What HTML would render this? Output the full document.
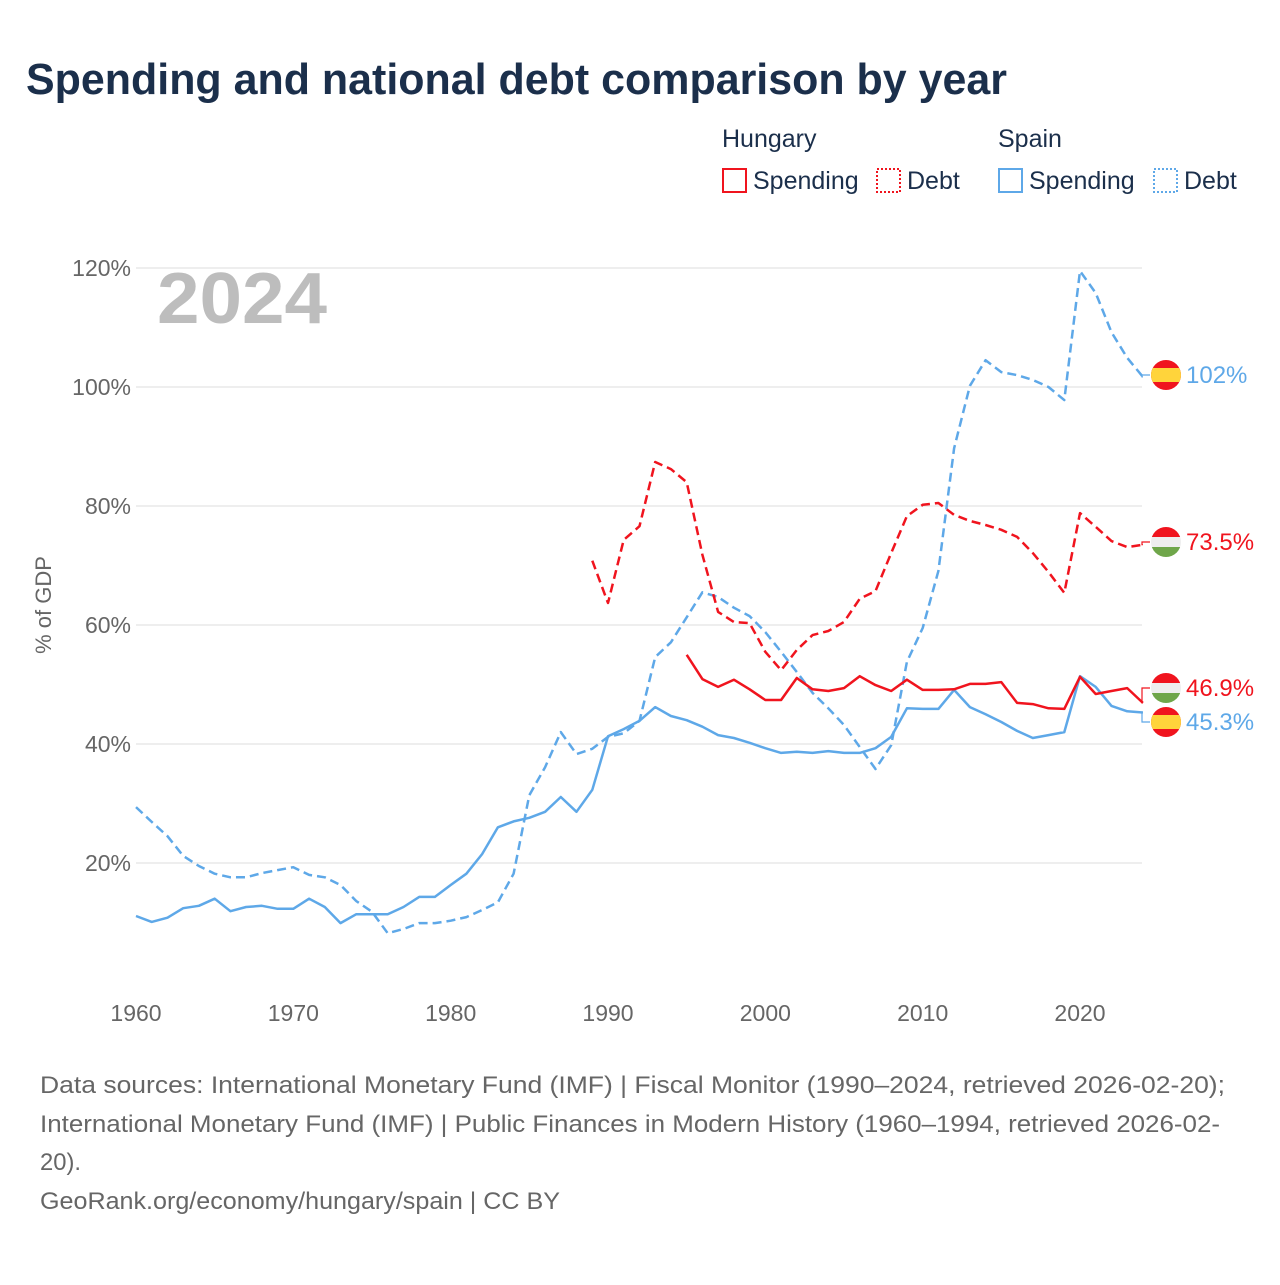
<!DOCTYPE html>
<html><head><meta charset="utf-8"><style>
body{margin:0;background:#fff;font-family:"Liberation Sans",sans-serif;}
svg text{font-family:"Liberation Sans",sans-serif;}
</style></head><body>
<svg id="c" width="1280" height="1280" xmlns="http://www.w3.org/2000/svg">
<text x="26" y="94" font-size="44" font-weight="bold" fill="#1b2f4b" textLength="981" lengthAdjust="spacingAndGlyphs">Spending and national debt comparison by year</text>
<g font-size="25" fill="#1b2f4b">
<text x="722" y="147">Hungary</text>
<text x="998" y="147">Spain</text>
<g><rect x="723" y="169" width="23" height="23" fill="none" stroke="#f0141e" stroke-width="2"/><text x="753" y="189">Spending</text></g>
<g><rect x="877" y="169" width="23" height="23" fill="none" stroke="#f0141e" stroke-width="2" stroke-dasharray="2,2"/><text x="907" y="189">Debt</text></g>
<g><rect x="999" y="169" width="23" height="23" fill="none" stroke="#5ea8e8" stroke-width="2"/><text x="1029" y="189">Spending</text></g>
<g><rect x="1154" y="169" width="23" height="23" fill="none" stroke="#5ea8e8" stroke-width="2" stroke-dasharray="2,2"/><text x="1184" y="189">Debt</text></g>
</g>
<text x="157" y="323" font-size="72" font-weight="bold" fill="#bdbdbd" textLength="170" lengthAdjust="spacingAndGlyphs">2024</text>
<text transform="translate(51,605) rotate(-90)" text-anchor="middle" font-size="22" fill="#666">% of GDP</text>
<g id="grid"></g><g id="axes"></g><g id="series"></g><g id="labels"></g>
<g font-size="24" fill="#666">
<text x="40" y="1093" textLength="1185" lengthAdjust="spacingAndGlyphs">Data sources: International Monetary Fund (IMF) | Fiscal Monitor (1990–2024, retrieved 2026-02-20);</text>
<text x="40" y="1132" textLength="1180" lengthAdjust="spacingAndGlyphs">International Monetary Fund (IMF) | Public Finances in Modern History (1960–1994, retrieved 2026-02-</text>
<text x="40" y="1170" textLength="41" lengthAdjust="spacingAndGlyphs">20).</text>
<text x="40" y="1209" textLength="520" lengthAdjust="spacingAndGlyphs">GeoRank.org/economy/hungary/spain | CC BY</text>
</g>
</svg>
<script>
const yTicks=[20,40,60,80,100,120];
const xTicks=[1960,1970,1980,1990,2000,2010,2020];
const esSpendStart=1960;
const esSpending=[11.1,10.1,10.8,12.4,12.8,14.0,11.9,12.6,12.8,12.3,12.3,14.0,12.6,9.9,11.4,11.4,11.4,12.6,14.3,14.3,16.3,18.2,21.5,26,27,27.6,28.6,31.1,28.6,32.3,41.3,42.5,43.9,46.2,44.7,44,42.9,41.5,41,40.2,39.3,38.5,38.7,38.5,38.8,38.5,38.5,39.3,41.2,46,45.9,45.9,49.1,46.2,45,43.7,42.2,41,41.5,42,51.4,49.6,46.4,45.5,45.3];
const esDebtStart=1960;
const esDebt=[29.4,26.9,24.5,21.2,19.5,18.2,17.6,17.6,18.3,18.8,19.3,18,17.6,16.3,13.6,11.8,8.2,8.9,9.9,9.9,10.3,10.9,12.1,13.4,18.2,31.4,36.1,42,38.3,39.2,41.2,41.8,43.9,54.6,57.1,61.3,65.5,64.7,62.9,61.5,58.8,55.5,52.1,48.6,46,43.2,39.5,35.8,39.8,53.8,59.5,69.1,89.7,100.2,104.5,102.5,102,101.2,100,97.8,119.5,115.8,109.2,104.9,101.7];
const huDebtStart=1989;
const huDebt=[70.8,63.7,74.3,76.6,87.4,86.2,84,71.8,62.2,60.5,60.3,55.5,52.4,55.8,58.3,59,60.5,64.4,65.7,72.1,78.3,80.2,80.5,78.5,77.5,76.8,76,74.8,72.1,68.9,65.4,78.8,76.5,74.1,73.1,73.5];
const huSpendStart=1995;
const huSpending=[55,50.9,49.6,50.8,49.2,47.4,47.4,51.1,49.2,48.9,49.4,51.4,49.9,48.9,50.8,49.1,49.1,49.2,50.1,50.1,50.4,46.9,46.7,46,45.9,51.3,48.4,48.9,49.4,46.9];
const endLabels=["102%","73.5%","46.9%","45.3%"];

const NS="http://www.w3.org/2000/svg";
const X0=136,XR=1142;
const x=yr=>136+(yr-1960)*944/60;
const y=v=>982-v*5.95;
function mk(tag,attrs,parent){const e=document.createElementNS(NS,tag);for(const k in attrs)e.setAttribute(k,attrs[k]);parent.appendChild(e);return e;}
const grid=document.getElementById('grid'),axes=document.getElementById('axes'),ser=document.getElementById('series'),lab=document.getElementById('labels');
yTicks.forEach(t=>{
 const l=mk('line',{x1:X0,x2:XR,y1:y(t),y2:y(t),stroke:'#e8e8e8','stroke-width':1.5},grid);
 
 
 const tx=mk('text',{x:131,y:y(t)+8,'text-anchor':'end','font-size':23,fill:'#666'},axes);
 tx.textContent=t+'%';
 
 
});
xTicks.forEach(t=>{
 const tx=mk('text',{x:x(t),y:1021,'text-anchor':'middle','font-size':23,fill:'#666'},axes);
 tx.textContent=t;
 
 
});
function line(arr,start,color,dash,name){
 const d=arr.map((v,i)=>(i?'L':'M')+x(start+i).toFixed(1)+','+y(v).toFixed(1)).join('');
 const p=mk('path',{d:d,fill:'none',stroke:color,'stroke-width':2.5,'stroke-linejoin':'round'},ser);
 if(dash)p.setAttribute('stroke-dasharray','9,5');
 
 
}
const RED='#f0141e',BLUE='#5ea8e8';
line(esSpending,esSpendStart,BLUE,false,'spain-spending-line');
line(esDebt,esDebtStart,BLUE,true,'spain-debt-line');
line(huDebt,huDebtStart,RED,true,'hungary-debt-line');
line(huSpending,huSpendStart,RED,false,'hungary-spending-line');
const ends=[[esDebt[esDebt.length-1],375,BLUE,'es',endLabels[0]],[huDebt[huDebt.length-1],542,RED,'hu',endLabels[1]],[huSpending[huSpending.length-1],688,RED,'hu',endLabels[2]],[esSpending[esSpending.length-1],722,BLUE,'es',endLabels[3]]];
ends.forEach(([v,ly,c,f,t],i)=>{
 const g=mk('g',{},lab);
 
 
 mk('path',{d:`M${x(2024)},${y(v)}H1142V${ly}H1150`,fill:'none',stroke:c,'stroke-width':1.2},g);
 const cx=1166,r=15;
 mk('clipPath',{id:'cp'+i},g).appendChild(document.createElementNS(NS,'circle')).setAttribute('r',r);
 const cp=g.lastChild.firstChild;cp.setAttribute('cx',cx);cp.setAttribute('cy',ly);
 const fg=mk('g',{'clip-path':`url(#cp${i})`},g);
 if(f==='es'){mk('rect',{x:cx-r,y:ly-r,width:30,height:30,fill:'#f0141e'},fg);mk('rect',{x:cx-r,y:ly-7,width:30,height:14,fill:'#ffd43b'},fg);}
 else{mk('rect',{x:cx-r,y:ly-r,width:30,height:10,fill:'#f0141e'},fg);mk('rect',{x:cx-r,y:ly-5,width:30,height:10,fill:'#eeeeee'},fg);mk('rect',{x:cx-r,y:ly+5,width:30,height:10,fill:'#6fa64a'},fg);}
 const tx=mk('text',{x:1186,y:ly+8,'font-size':24,fill:c},g);tx.textContent=t;
});
</script>
</body></html>
